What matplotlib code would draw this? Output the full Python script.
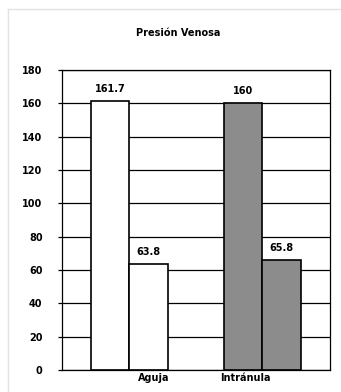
import numpy as np
import matplotlib.pyplot as plt
from matplotlib.lines import Line2D

categories = ["Aguja", "Intránula"]
first_values = [161.7, 160]
second_values = [63.8, 65.8]
bar_colors = ["white", "#8c8c8c"]
y_ticks = [0, 20, 40, 60, 80, 100, 120, 140, 160, 180]

plt.rcParams["font.family"] = "DejaVu Sans"
plt.rcParams["font.weight"] = "bold"

fig = plt.figure(figsize=(3.41, 3.92), dpi=100)
fig.patch.set_facecolor("white")

# faint panel frame (top and left edges only)
fx, fy = 7.5 / 341, 1 - 8.5 / 392
fig.lines.append(Line2D([fx, 1], [fy, fy], transform=fig.transFigure,
                        color="#e2e2e2", lw=1.0))
fig.lines.append(Line2D([fx, fx], [0, fy], transform=fig.transFigure,
                        color="#e2e2e2", lw=1.0))

ax = fig.add_axes([62 / 341, 22 / 392, 268 / 341, 300 / 392])

centers = np.array([1.75, 5.2])
w = 1.0
ax.set_axisbelow(True)
ax.yaxis.grid(True, color="black", lw=0.9)
for i in range(len(categories)):
    for x, v in [(centers[i] - w / 2, first_values[i]), (centers[i] + w / 2, second_values[i])]:
        ax.bar(x, v, width=w, color=bar_colors[i], edgecolor="black", lw=1.2, zorder=2)
        ax.annotate(f"{v:g}", (x, v), xytext=(0, 5), textcoords="offset points",
                    ha="center", va="bottom", fontsize=7, fontweight="bold")

ax.set_xlim(0, 6.96)
ax.set_ylim(0, 180)
ax.set_yticks(y_ticks)
ax.tick_params(axis="y", length=3, width=0.9, pad=11, labelsize=7)
ax.set_xticks(centers + np.array([0.64, -0.45]))
ax.set_xticklabels(categories, fontsize=7, fontweight="bold")
ax.tick_params(axis="x", length=0, pad=2)
for s in ax.spines.values():
    s.set_linewidth(0.9)
    s.set_color("black")

fig.text(178 / 341, 1 - 33 / 392, "Presión Venosa", ha="center", va="center",
         fontsize=7, fontweight="bold")

fig.savefig("out.png", dpi=100)
